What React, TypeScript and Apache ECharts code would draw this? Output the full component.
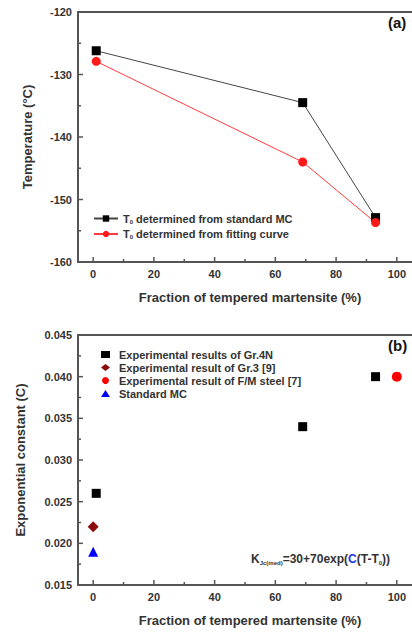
import React, { useEffect, useRef } from "react";
import * as echarts from "echarts";

// Panel (a)
const fractionA = [1, 69, 93];
const t0Standard = [-126.2, -134.5, -152.9];
const t0Fitting = [-127.9, -144.0, -153.7];

// Panel (b)
const gr4nX = [1, 69, 93];
const gr4nC = [0.026, 0.034, 0.04];
const gr3 = [[0, 0.022]];
const fmSteel = [[100, 0.04]];
const standardMC = [[0, 0.019]];

// ticks
const xMajor = [0, 20, 40, 60, 80, 100];
const xMinor = [10, 30, 50, 70, 90];
const yAMajor = [-160, -150, -140, -130, -120];
const yAMinor = [-155, -145, -135, -125];
const yBMajor = [0.015, 0.02, 0.025, 0.03, 0.035, 0.04, 0.045];
const yBMinor = [0.0175, 0.0225, 0.0275, 0.0325, 0.0375, 0.0425];

const FONT = "Liberation Sans, Arial, sans-serif";
const AX = "#555";
const TXT = "#333";
const X_NAME = "Fraction of tempered martensite (%)";
const X_MIN = -5;

export default function App() {
  const ref = useRef<HTMLDivElement>(null);
  useEffect(() => {
    if (!ref.current) return;
    const chart = echarts.init(ref.current, null, { renderer: "svg" });
    const grids = [
      { left: 78, top: 12, width: 338, height: 250 },
      { left: 78, top: 335, width: 338, height: 250 },
    ];
    const nameStyle = { color: TXT, fontWeight: "bold", fontSize: 13, fontFamily: FONT };
    const labelStyle = { color: TXT, fontWeight: "bold", fontSize: 11, fontFamily: FONT };
    const mkX = (gi: number) => ({
      type: "value",
      gridIndex: gi,
      min: X_MIN,
      max: 105,
      position: "bottom",
      name: X_NAME,
      nameLocation: "middle",
      nameGap: 29,
      nameTextStyle: { ...nameStyle, padding: [0, 0, 0, 10] },
      splitLine: { show: false },
      axisLine: { show: true, onZero: false, lineStyle: { color: AX, width: 2 } },
      axisTick: { show: false },
      axisLabel: { customValues: xMajor, margin: 6, ...labelStyle },
    });
    const mkXTop = (gi: number) => ({
      type: "value",
      gridIndex: gi,
      min: X_MIN,
      max: 105,
      position: "top",
      splitLine: { show: false },
      axisLine: { show: true, onZero: false, lineStyle: { color: AX, width: 2 } },
      axisTick: { show: false },
      axisLabel: { show: false },
    });
    const mkY = (gi: number, min: number, max: number, major: number[], name: string, gap: number, fmt?: any) => ({
      type: "value",
      gridIndex: gi,
      min,
      max,
      position: "left",
      name,
      nameLocation: "middle",
      nameGap: gap,
      nameTextStyle: nameStyle,
      splitLine: { show: false },
      axisLine: { show: true, onZero: false, lineStyle: { color: AX, width: 2 } },
      axisTick: { show: false },
      axisLabel: { customValues: major, margin: 6, ...labelStyle, formatter: fmt },
    });
    const tickSeries = (xi: number, yi: number, values: number[], dir: "x" | "y", anchor: number, len: number) => ({
      type: "custom",
      coordinateSystem: "cartesian2d",
      xAxisIndex: xi,
      yAxisIndex: yi,
      silent: true,
      clip: false,
      z: 4,
      data: values.map((v) => (dir === "x" ? [v, anchor] : [anchor, v])),
      renderItem: (_p: any, api: any) => {
        const p = api.coord([api.value(0), api.value(1)]);
        const shape =
          dir === "x"
            ? { x1: p[0], y1: p[1], x2: p[0], y2: p[1] - len }
            : { x1: p[0], y1: p[1], x2: p[0] + len, y2: p[1] };
        return { type: "line", shape, style: { stroke: AX, lineWidth: 1.5 } };
      },
    });
    const option: any = {
      animation: false,
      backgroundColor: "#fff",
      grid: grids,
      xAxis: [mkX(0), mkXTop(0), mkX(1), mkXTop(1)],
      yAxis: [
        mkY(0, -160, -120, yAMajor, "Temperature (°C)", 44),
        mkY(1, 0.015, 0.045, yBMajor, "Exponential constant (C)", 51, (v: number) => v.toFixed(3)),
      ],
      legend: [
        {
          orient: "vertical",
          left: 88,
          top: 208,
          itemWidth: 24,
          itemHeight: 8,
          itemGap: 4,
          data: ["std", "fit"],
          formatter: (n: string) =>
            n === "std"
              ? "T{s|0} determined from standard MC"
              : "T{s|0} determined from fitting curve",
          textStyle: {
            ...labelStyle,
            rich: { s: { fontSize: 6, verticalAlign: "bottom", padding: [6, 0, 0, 0], fontWeight: "bold", color: TXT, fontFamily: FONT } },
          },
        },
        {
          orient: "vertical",
          left: 96,
          top: 344,
          itemWidth: 9,
          itemHeight: 7,
          itemGap: 2,
          data: [
            "Experimental results of Gr.4N",
            "Experimental result of Gr.3 [9]",
            "Experimental result of F/M steel [7]",
            "Standard MC",
          ],
          textStyle: { ...labelStyle, padding: [0, 0, 0, 4] },
        },
      ],
      series: [
        tickSeries(0, 0, xMajor, "x", -160, 5),
        tickSeries(0, 0, xMinor, "x", -160, 3),
        tickSeries(0, 0, yAMajor, "y", X_MIN, 5),
        tickSeries(0, 0, yAMinor, "y", X_MIN, 3),
        tickSeries(2, 1, xMajor, "x", 0.015, 5),
        tickSeries(2, 1, xMinor, "x", 0.015, 3),
        tickSeries(2, 1, yBMajor, "y", X_MIN, 5),
        tickSeries(2, 1, yBMinor, "y", X_MIN, 3),
        {
          name: "std",
          type: "line",
          xAxisIndex: 0,
          yAxisIndex: 0,
          z: 3,
          data: fractionA.map((x, i) => [x, t0Standard[i]]),
          symbol: "rect",
          symbolSize: 9,
          itemStyle: { color: "#000" },
          lineStyle: { color: "#444", width: 1 },
        },
        {
          name: "fit",
          type: "line",
          xAxisIndex: 0,
          yAxisIndex: 0,
          z: 3,
          data: fractionA.map((x, i) => [x, t0Fitting[i]]),
          symbol: "circle",
          symbolSize: 9,
          itemStyle: { color: "#ff1a1a" },
          lineStyle: { color: "#ff3b3b", width: 1 },
        },
        {
          name: "Experimental results of Gr.4N",
          type: "scatter",
          xAxisIndex: 2,
          yAxisIndex: 1,
          z: 3,
          data: gr4nX.map((x, i) => [x, gr4nC[i]]),
          symbol: "rect",
          symbolSize: 9,
          itemStyle: { color: "#000", opacity: 1 },
        },
        {
          name: "Experimental result of Gr.3 [9]",
          type: "scatter",
          xAxisIndex: 2,
          yAxisIndex: 1,
          z: 3,
          data: gr3,
          symbol: "diamond",
          symbolSize: 11,
          itemStyle: { color: "#8b0a0a", opacity: 1 },
        },
        {
          name: "Experimental result of F/M steel [7]",
          type: "scatter",
          xAxisIndex: 2,
          yAxisIndex: 1,
          z: 3,
          data: fmSteel,
          symbol: "circle",
          symbolSize: 10,
          itemStyle: { color: "#ff0000", opacity: 1 },
        },
        {
          name: "Standard MC",
          type: "scatter",
          xAxisIndex: 2,
          yAxisIndex: 1,
          z: 3,
          data: standardMC,
          symbol: "triangle",
          symbolSize: 10,
          itemStyle: { color: "#0000ff", opacity: 1 },
        },
      ],
      graphic: [
        {
          type: "text",
          left: 388,
          top: 15,
          style: { text: "(a)", fill: "#111", font: `bold 15px ${FONT}` },
        },
        {
          type: "text",
          left: 388,
          top: 338,
          style: { text: "(b)", fill: "#111", font: `bold 15px ${FONT}` },
        },
        {
          type: "text",
          left: 251,
          top: 553,
          style: {
            text: "K{s|Jc(med)}=30+70exp({c|C}(T-T{s|0}))",
            fill: TXT,
            font: `bold 12px ${FONT}`,
            rich: {
              s: { fontSize: 6, fontWeight: "bold", fill: TXT, fontFamily: FONT, padding: [8, 0, 0, 0] },
              c: { fontSize: 12, fontWeight: "bold", fill: "#2233ee", fontFamily: FONT, textDecoration: "underline" },
            },
          },
        },
      ],
    };
    chart.setOption(option);
    return () => chart.dispose();
  }, []);
  return (
    <div
      ref={ref}
      style={{ position: "fixed", left: 0, top: 0, width: 412, height: 633, background: "#fff" }}
    />
  );
}
